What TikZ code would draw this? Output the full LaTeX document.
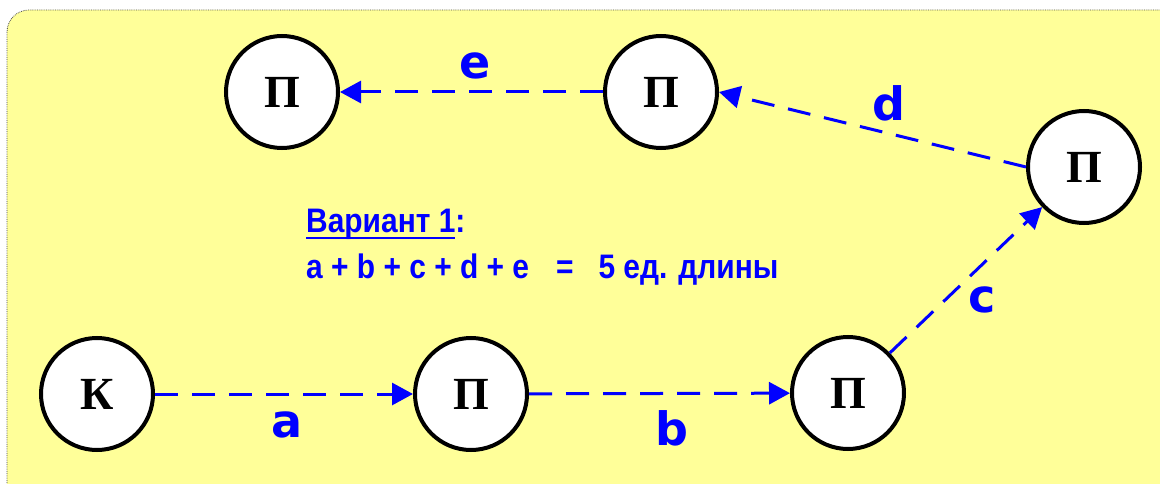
\documentclass[tikz,border=0pt]{standalone}
\usepackage{fontspec}
\setmainfont{Liberation Serif}
\newfontfamily\lblfont{DejaVu Sans}
\newfontfamily\txtfont{Liberation Sans}[FakeStretch=0.88]
\usetikzlibrary{arrows.meta}
\definecolor{bgyellow}{RGB}{255,255,153}
\definecolor{myblue}{RGB}{0,0,255}
\newcommand{\myul}[1]{\setbox0\hbox{#1}\rlap{\rule[-6pt]{\wd0}{2.2pt}}\box0}
\begin{document}
\begin{tikzpicture}[x=1pt,y=-1pt,
  place/.style={circle, draw=black, line width=4pt, fill=white, minimum size=112pt, inner sep=0pt, font=\fontsize{46}{46}\selectfont\bfseries},
  conn/.style={draw=myblue, line width=3pt, dash pattern=on 23pt off 14pt, -{Triangle[length=21pt,width=22pt]}},
  lbl/.style={text=myblue, inner sep=0pt, font=\lblfont\fontsize{46}{46}\selectfont\bfseries},
  info/.style={text=myblue, inner sep=0pt, anchor=base west, font=\txtfont\fontsize{34}{34}\selectfont\bfseries}]
\clip (0,0) rectangle (1160,484);
\draw[fill=bgyellow, draw=black!70, densely dotted, line width=0.8pt, rounded corners=22pt] (7,10) rectangle (1200,520);
\node[place] (K) at (97,394) {К};
\node[place] (P1) at (471,394) {П};
\node[place] (P2) at (848,393) {П};
\node[place] (P3) at (1084,167) {П};
\node[place] (P4) at (661,92) {П};
\node[place] (P5) at (282,92) {П};
\draw[conn] (K) -- (P1);
\draw[conn] (P1) -- (P2);
\draw[conn] (P2) -- (P3);
\draw[conn] (P3.west) -- (P4.east);
\draw[conn] (P4.west) -- (P5.east);
\node[lbl] (la) at (287,425) {a};
\node[lbl] (lb) at (672,428) {b};
\node[lbl] (lc) at (982,300) {c};
\node[lbl] (ld) at (889,103) {d};
\node[lbl] (le) at (475,66) {e};
\node[info] (t1) at (306,233) {\myul{Вариант 1}:};
\node[info] (t2) at (306,278) {a + b + c + d + e\hspace{27pt}=\hspace{25pt}5 ед. длины};
\end{tikzpicture}
\end{document}
